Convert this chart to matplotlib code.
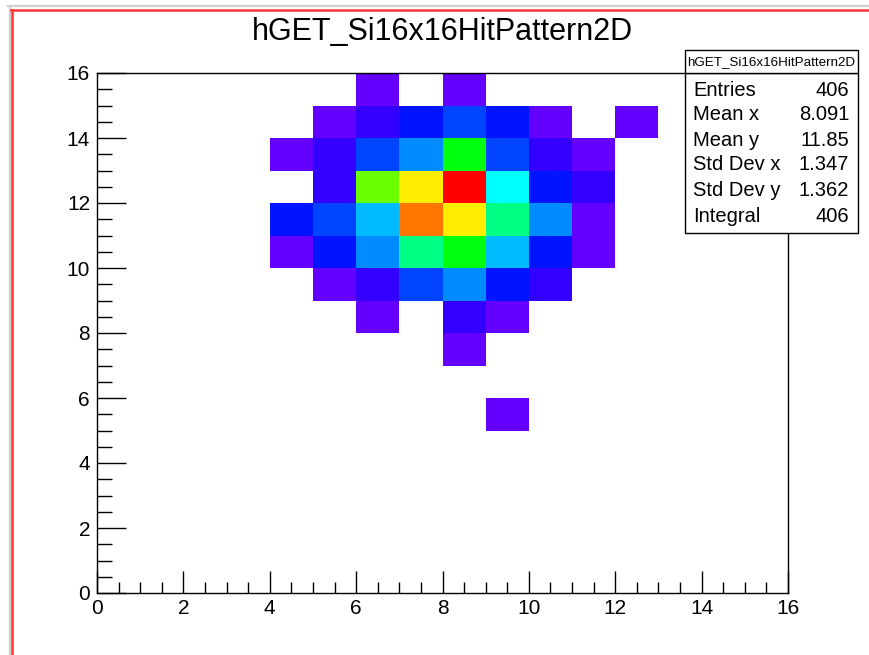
import colorsys

import numpy as np
import matplotlib
matplotlib.use("Agg")
import matplotlib.pyplot as plt
from matplotlib.colors import ListedColormap, BoundaryNorm
from matplotlib.lines import Line2D
from matplotlib.patches import Rectangle
from matplotlib.ticker import MultipleLocator

plt.rcParams["font.family"] = ["Liberation Sans", "DejaVu Sans"]

# ---------------------------------------------------------------- data
hist_name = "hGET_Si16x16HitPattern2D"
x_edges = np.arange(0, 17)
y_edges = np.arange(0, 17)
x_tick_values = [0, 2, 4, 6, 8, 10, 12, 14, 16]
y_tick_values = [0, 2, 4, 6, 8, 10, 12, 14, 16]

# hit counts per strip pair; first row is y bin 15, last row is y bin 0
counts_rows = [
    [0, 0, 0, 0, 0, 0, 1, 0, 1, 0, 0, 0, 0, 0, 0, 0],
    [0, 0, 0, 0, 0, 1, 2, 4, 7, 5, 1, 0, 1, 0, 0, 0],
    [0, 0, 0, 0, 1, 2, 7, 9, 21, 7, 2, 1, 0, 0, 0, 0],
    [0, 0, 0, 0, 0, 2, 25, 31, 40, 13, 5, 2, 0, 0, 0, 0],
    [0, 0, 0, 0, 4, 6, 11, 35, 30, 17, 9, 1, 0, 0, 0, 0],
    [0, 0, 0, 0, 1, 5, 9, 17, 21, 10, 5, 1, 0, 0, 0, 0],
    [0, 0, 0, 0, 0, 1, 2, 7, 9, 5, 3, 0, 0, 0, 0, 0],
    [0, 0, 0, 0, 0, 0, 1, 0, 2, 1, 0, 0, 0, 0, 0, 0],
    [0, 0, 0, 0, 0, 0, 0, 0, 1, 0, 0, 0, 0, 0, 0, 0],
    [0, 0, 0, 0, 0, 0, 0, 0, 0, 0, 0, 0, 0, 0, 0, 0],
    [0, 0, 0, 0, 0, 0, 0, 0, 0, 1, 0, 0, 0, 0, 0, 0],
    [0, 0, 0, 0, 0, 0, 0, 0, 0, 0, 0, 0, 0, 0, 0, 0],
    [0, 0, 0, 0, 0, 0, 0, 0, 0, 0, 0, 0, 0, 0, 0, 0],
    [0, 0, 0, 0, 0, 0, 0, 0, 0, 0, 0, 0, 0, 0, 0, 0],
    [0, 0, 0, 0, 0, 0, 0, 0, 0, 0, 0, 0, 0, 0, 0, 0],
    [0, 0, 0, 0, 0, 0, 0, 0, 0, 0, 0, 0, 0, 0, 0, 0],
]

counts = np.array(counts_rows, dtype=float)[::-1]  # row index == y bin

# ------------------------------------------------------ colour levels
# 50-colour violet->red spectrum (HLS, fixed lightness/saturation)
n_palette = 50
palette = []
for i in range(n_palette - 1):
    hue = 280.0 - (i + 1) * 280.0 / n_palette
    palette.append(colorsys.hls_to_rgb(hue / 360.0, 0.5, 1.0))
palette.append((1.0, 0.0, 0.0))

n_contours = 20
zmax = counts.max()
level_colors = [palette[min(int((k + 0.99) * n_palette / n_contours), n_palette - 1)]
                for k in range(n_contours + 1)]
cmap = ListedColormap(level_colors)
bounds = [(k - 0.01) * zmax / n_contours for k in range(n_contours + 1)] + [zmax * 10]
norm = BoundaryNorm(bounds, ncolors=len(level_colors))

# ------------------------------------------------------------- figure
W, H = 869, 655
fig = plt.figure(figsize=(W / 100, H / 100), dpi=100)
fig.patch.set_facecolor("white")


def fx(px):
    return px / W


def fy(py):
    return 1 - py / H


# canvas frame
fig.add_artist(Line2D([fx(8), fx(W)], [fy(6), fy(6)], color="#cfcfcf", lw=1.6))
fig.add_artist(Line2D([fx(9.5), fx(9.5)], [fy(6), fy(H)], color="#cfcfcf", lw=1.6))
fig.add_artist(Line2D([fx(11), fx(W)], [fy(10), fy(10)], color="#ff3333", lw=1.8))
fig.add_artist(Line2D([fx(12.3), fx(12.3)], [fy(10), fy(H)], color="#ff3333", lw=1.8))

ax = fig.add_axes([fx(97), fy(593), (788 - 97) / W, (593 - 73) / H])
masked = np.ma.masked_equal(counts, 0)
ax.pcolormesh(x_edges, y_edges, masked, cmap=cmap, norm=norm,
              edgecolors="none", antialiased=False)

ax.set_xlim(x_edges[0], x_edges[-1])
ax.set_ylim(y_edges[0], y_edges[-1])
ax.set_xticks(x_tick_values)
ax.set_yticks(y_tick_values)
ax.set_xticklabels([str(v) for v in x_tick_values])
ax.set_yticklabels([str(v) for v in y_tick_values])
ax.xaxis.set_minor_locator(MultipleLocator(0.5))
ax.yaxis.set_minor_locator(MultipleLocator(0.5))
ax.tick_params(axis="x", which="major", direction="in", length=16, width=1,
               labelsize=15, pad=4, top=False)
ax.tick_params(axis="x", which="minor", direction="in", length=8, width=1, top=False)
ax.tick_params(axis="y", which="major", direction="in", length=21, width=1,
               labelsize=15, pad=5, right=False)
ax.tick_params(axis="y", which="minor", direction="in", length=10.5, width=1, right=False)
for sp in ax.spines.values():
    sp.set_linewidth(1.0)
    sp.set_color("black")

fig.text(fx(442), fy(32), hist_name, fontsize=22, ha="center", va="center")

# ------------------------------------------------------ statistics box
xc = (x_edges[:-1] + x_edges[1:]) / 2
yc = (y_edges[:-1] + y_edges[1:]) / 2
n_entries = counts.sum()
px_ = counts.sum(axis=0)
py_ = counts.sum(axis=1)
mean_x = (px_ * xc).sum() / n_entries
mean_y = (py_ * yc).sum() / n_entries
std_x = np.sqrt((px_ * xc ** 2).sum() / n_entries - mean_x ** 2)
std_y = np.sqrt((py_ * yc ** 2).sum() / n_entries - mean_y ** 2)

stats = [
    ("Entries", f"{int(n_entries)}"),
    ("Mean x", f"{mean_x:.4g}"),
    ("Mean y", f"{mean_y:.4g}"),
    ("Std Dev x", f"{std_x:.4g}"),
    ("Std Dev y", f"{std_y:.4g}"),
    ("Integral", f"{int(n_entries)}"),
]

box_l, box_r = 685, 858
fig.add_artist(Rectangle((fx(box_l), fy(233)), (box_r - box_l) / W, (233 - 73) / H,
                         transform=fig.transFigure, facecolor="white",
                         edgecolor="black", lw=1.0, zorder=5))
fig.add_artist(Rectangle((fx(box_l), fy(73)), (box_r - box_l) / W, (73 - 50) / H,
                         transform=fig.transFigure, facecolor="white",
                         edgecolor="black", lw=1.0, zorder=5))
fig.text(fx((box_l + box_r) / 2), fy(62), hist_name, fontsize=9.6,
         ha="center", va="center", zorder=6)
row_y = [90, 115, 140, 165, 190, 216]
for (label, value), yy in zip(stats, row_y):
    fig.text(fx(693), fy(yy), label, fontsize=14.5, ha="left", va="center", zorder=6)
    fig.text(fx(849), fy(yy), value, fontsize=14.5, ha="right", va="center", zorder=6)

fig.savefig("out.png", dpi=100, facecolor="white")
